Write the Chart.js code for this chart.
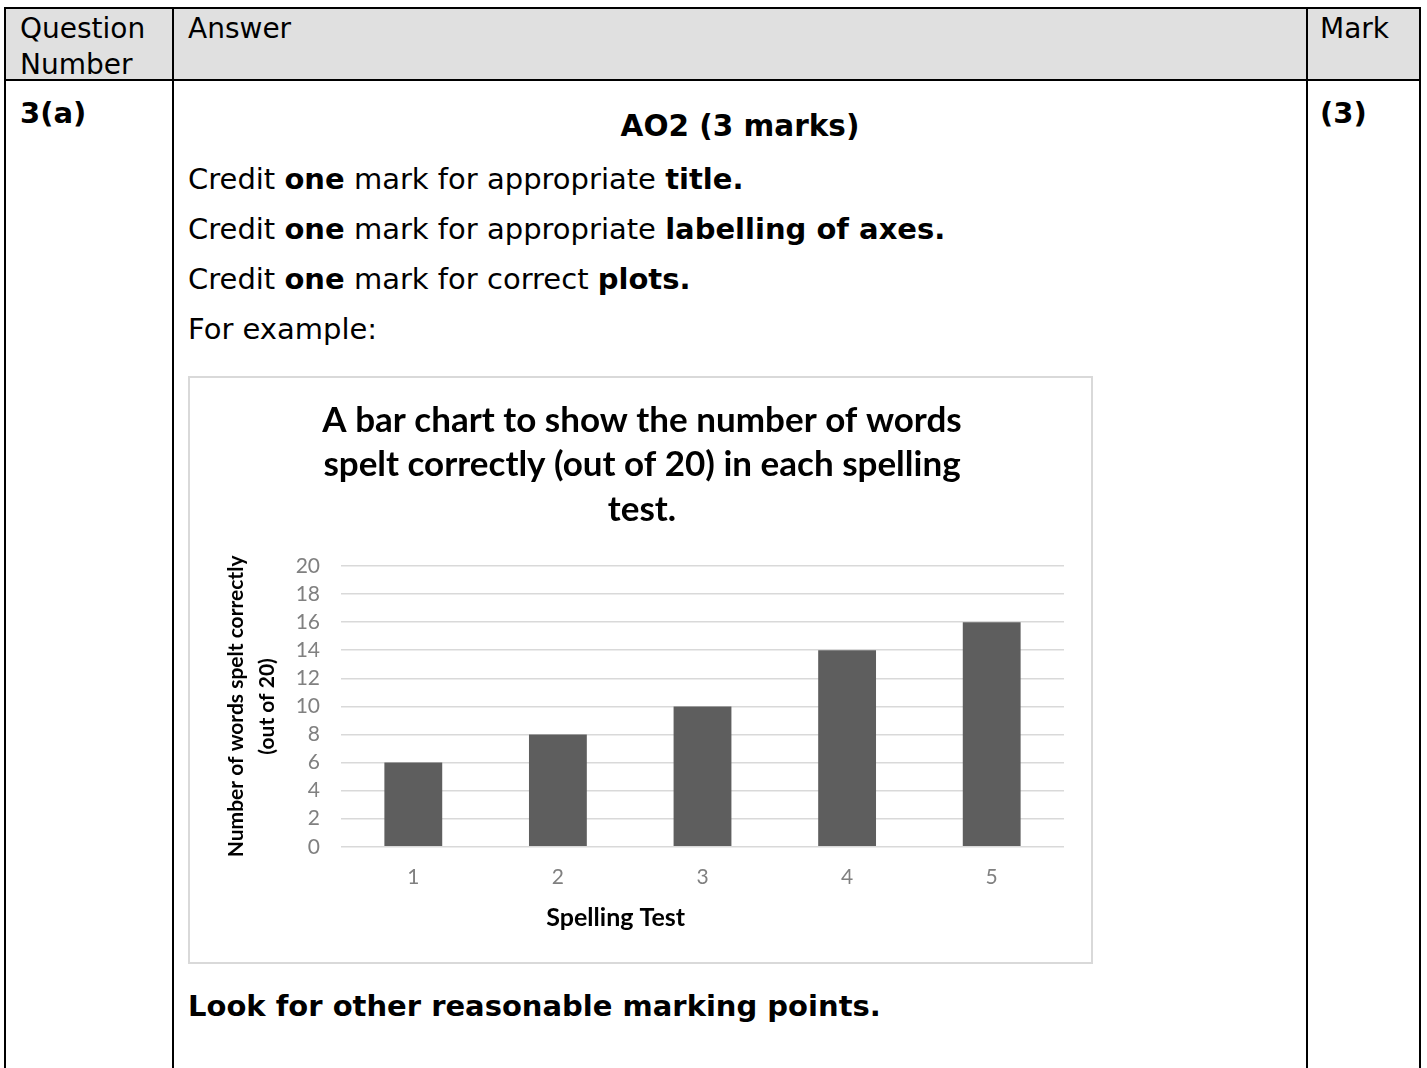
<!DOCTYPE html>
<html>
<head>
<meta charset="utf-8">
<title>Spelling test bar chart</title>
<script src="https://cdn.jsdelivr.net/npm/chart.js@4.4.1/dist/chart.umd.min.js"></script>
<style>
  html, body { margin: 0; padding: 0; background: #fff; }
  body {
    width: 1427px; height: 1068px; position: relative; overflow: hidden;
    font-family: "DejaVu Sans", Verdana, sans-serif; font-size: 29px; color: #000;
  }
  .rule { position: absolute; background: #000; }
  .txt { position: absolute; line-height: 36px; white-space: nowrap; }
  .hd { font-size: 28px; }
  #head { position: absolute; left: 4px; top: 7px; width: 1417px; height: 73px; background: #e0e0e0; }
  #chartBox {
    position: absolute; left: 188px; top: 376px; width: 905px; height: 588px;
    border: 2px solid #d9d9d9; box-sizing: border-box; background: #fff;
  }
  #chartWrap { position: absolute; left: 0; top: 0; width: 901px; height: 584px; }
</style>
</head>
<body>
  <div id="head"></div>
  <div class="rule" style="left:4px;top:7px;width:1417px;height:2px"></div>
  <div class="rule" style="left:4px;top:79px;width:1417px;height:2px"></div>
  <div class="rule" style="left:4px;top:7px;width:2px;height:1061px"></div>
  <div class="rule" style="left:172px;top:7px;width:2px;height:1061px"></div>
  <div class="rule" style="left:1306px;top:7px;width:2px;height:1061px"></div>
  <div class="rule" style="left:1419px;top:7px;width:2px;height:1061px"></div>

  <div class="txt hd" style="left:20px;top:11px">Question<br>Number</div>
  <div class="txt hd" style="left:188px;top:11px">Answer</div>
  <div class="txt hd" style="left:1320px;top:11px">Mark</div>

  <div class="txt" style="left:20px;top:95px"><b>3(a)</b></div>
  <div class="txt" style="left:1320px;top:95px"><b>(3)</b></div>
  <div class="txt" style="left:174px;top:108px;width:1132px;text-align:center;font-size:29.5px"><b>AO2 (3 marks)</b></div>

  <div class="txt" style="left:188px;top:161px">Credit <b>one</b> mark for appropriate <b>title.</b></div>
  <div class="txt" style="left:188px;top:211px">Credit <b>one</b> mark for appropriate <b>labelling of axes.</b></div>
  <div class="txt" style="left:188px;top:261px">Credit <b>one</b> mark for correct <b>plots.</b></div>
  <div class="txt" style="left:188px;top:311px">For example:</div>

  <div id="chartBox">
    <div id="chartWrap"><canvas id="spellingChart"></canvas></div>
  </div>

  <div class="txt" style="left:188px;top:988px"><b>Look for other reasonable marking points.</b></div>

<script>
// chart data
const testNumbers = ['1', '2', '3', '4', '5'];
const wordsCorrect = [6, 8, 10, 14, 16];
const yAxisMin = 0;
const yAxisMax = 20;
const yAxisStep = 2;
const chartTitle = ['A bar chart to show the number of words', 'spelt correctly (out of 20) in each spelling', 'test.'];
const yAxisTitle = ['Number of words spelt correctly', '(out of 20)'];
const xAxisTitle = 'Spelling Test';

// the x axis title sits left of the axis centre in the original, so draw it ourselves
const xTitlePlugin = {
    id: 'xTitle',
    afterDraw(chart) {
        const { ctx, chartArea } = chart;
        ctx.save();
        ctx.font = 'bold 25px Lato';
        ctx.fillStyle = '#000';
        ctx.textAlign = 'center';
        ctx.textBaseline = 'middle';
        ctx.fillText(xAxisTitle, chartArea.left + chartArea.width * 0.38, chartArea.bottom + 71);
        ctx.restore();
    }
};

function drawChart() {
    const ctx = document.getElementById('spellingChart').getContext('2d');
    new Chart(ctx, {
        type: 'bar',
        data: {
            labels: testNumbers,
            datasets: [{
                data: wordsCorrect,
                backgroundColor: '#5e5e5e',
                borderWidth: 0,
                barPercentage: 0.4,
                categoryPercentage: 1.0
            }]
        },
        options: {
            responsive: true,
            maintainAspectRatio: false,
            animation: false,
            layout: { padding: { left: 30, right: 27, top: 0, bottom: 54 } },
            plugins: {
                legend: { display: false },
                tooltip: { enabled: false },
                title: {
                    display: true,
                    text: chartTitle,
                    color: '#000',
                    font: { family: 'Lato', size: 35, weight: 'bold', lineHeight: 1.28 },
                    padding: { top: 20, bottom: 33.6 }
                }
            },
            scales: {
                x: {
                    grid: { display: false, drawTicks: false },
                    border: { display: false },
                    ticks: {
                        color: '#808080',
                        font: { family: 'Lato', size: 21 },
                        padding: 18
                    }
                },
                y: {
                    min: yAxisMin,
                    max: yAxisMax,
                    afterFit: scale => { scale.width = 121; },
                    grid: { color: '#d9d9d9', lineWidth: 1.5, drawTicks: false },
                    border: { display: false },
                    ticks: {
                        stepSize: yAxisStep,
                        autoSkip: false,
                        color: '#808080',
                        font: { family: 'Lato', size: 21 },
                        padding: 21
                    },
                    title: {
                        display: true,
                        text: yAxisTitle,
                        color: '#000',
                        font: { family: 'Lato', size: 21, weight: 'bold', lineHeight: 1.5 },
                        padding: { top: 0, bottom: 0 }
                    }
                }
            }
        },
        plugins: [xTitlePlugin]
    });
}

document.fonts.load('bold 30px Lato').then(drawChart, drawChart);
</script>
</body>
</html>
